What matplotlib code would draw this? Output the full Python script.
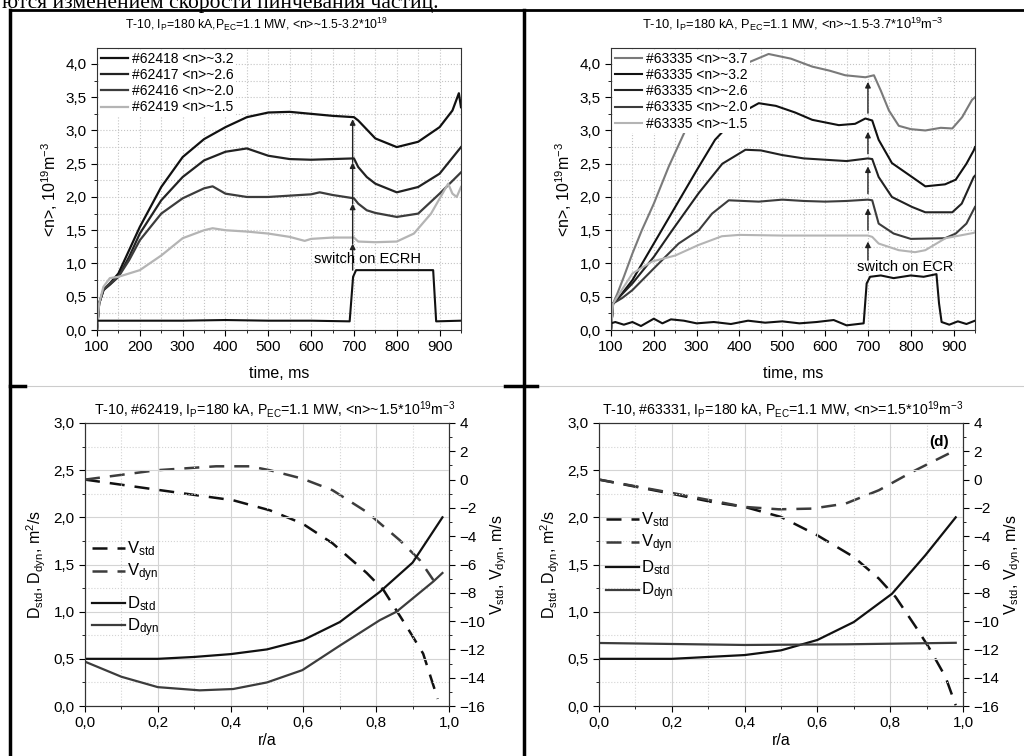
import matplotlib
matplotlib.use('Agg')
import matplotlib.pyplot as plt
from matplotlib.ticker import MultipleLocator, FuncFormatter
from matplotlib.lines import Line2D

plt.rcParams['font.family'] = ['Liberation Sans', 'DejaVu Sans']
plt.rcParams['mathtext.default'] = 'regular'

# --- DATA: panel (a), shots #62416-#62419 ---
a418_t = [100, 105, 115, 130, 150, 175, 200, 250, 300, 350, 400, 450, 500, 550, 600, 650, 700, 710, 750, 800, 850, 900, 930, 945, 950]
a418_n = [0, 0.4, 0.6, 0.7, 0.85, 1.2, 1.55, 2.15, 2.6, 2.87, 3.05, 3.2, 3.27, 3.28, 3.25, 3.22, 3.2, 3.15, 2.88, 2.75, 2.83, 3.05, 3.3, 3.56, 3.35]
a417_t = [100, 105, 115, 130, 150, 175, 200, 250, 300, 350, 400, 450, 500, 550, 600, 650, 700, 710, 730, 750, 800, 850, 900, 950]
a417_n = [0, 0.4, 0.6, 0.68, 0.8, 1.1, 1.45, 1.95, 2.3, 2.55, 2.68, 2.73, 2.62, 2.57, 2.56, 2.57, 2.58, 2.45, 2.3, 2.2, 2.07, 2.15, 2.35, 2.75]
a416_t = [100, 105, 115, 130, 150, 175, 200, 250, 300, 350, 370, 400, 450, 500, 550, 600, 620, 650, 700, 710, 730, 750, 800, 850, 900, 950]
a416_n = [0, 0.4, 0.6, 0.7, 0.8, 1.05, 1.35, 1.75, 1.98, 2.13, 2.16, 2.05, 2.0, 2.0, 2.02, 2.04, 2.07, 2.03, 1.98, 1.9, 1.8, 1.76, 1.7, 1.75, 2.05, 2.37]
a419_t = [100, 105, 115, 130, 150, 175, 200, 250, 300, 350, 370, 400, 450, 500, 550, 585, 600, 650, 700, 710, 750, 800, 840, 880, 920, 930, 940, 950]
a419_n = [0, 0.4, 0.65, 0.78, 0.8, 0.85, 0.9, 1.12, 1.38, 1.5, 1.53, 1.5, 1.48, 1.45, 1.4, 1.34, 1.37, 1.39, 1.39, 1.33, 1.32, 1.33, 1.45, 1.75, 2.2, 2.05, 2.0, 2.15]
ecrh_a_t = [100, 200, 300, 400, 500, 600, 690, 698, 705, 800, 885, 892, 950]
ecrh_a_p = [0.14, 0.14, 0.14, 0.15, 0.14, 0.14, 0.13, 0.8, 0.9, 0.9, 0.9, 0.13, 0.14]
arrows_a = [(0.9, 1.3), (1.3, 1.9), (1.9, 2.52), (2.52, 3.17)]

# --- DATA: panel (b), shot #63335 ---
b37_t = [100, 105, 115, 130, 150, 172, 200, 235, 270, 305, 340, 380, 420, 468, 520, 570, 610, 647, 694, 714, 730, 749, 772, 800, 834, 870, 897, 920, 943, 950]
b37_n = [0, 0.4, 0.55, 0.8, 1.15, 1.5, 1.9, 2.46, 2.95, 3.46, 3.7, 3.88, 4.02, 4.15, 4.08, 3.96, 3.9, 3.83, 3.8, 3.83, 3.6, 3.3, 3.07, 3.02, 3.0, 3.04, 3.03, 3.2, 3.46, 3.5]
b32_t = [100, 105, 120, 150, 200, 250, 300, 343, 400, 445, 485, 530, 570, 632, 670, 694, 710, 725, 756, 803, 834, 880, 905, 930, 947, 950]
b32_n = [0, 0.4, 0.5, 0.75, 1.3, 1.85, 2.4, 2.86, 3.25, 3.41, 3.37, 3.27, 3.16, 3.08, 3.1, 3.18, 3.15, 2.86, 2.51, 2.3, 2.16, 2.19, 2.26, 2.5, 2.7, 2.75]
b26_t = [100, 105, 120, 150, 200, 243, 305, 360, 414, 450, 500, 550, 600, 650, 700, 710, 725, 756, 803, 834, 897, 919, 947, 950]
b26_n = [0, 0.4, 0.5, 0.7, 1.1, 1.5, 2.06, 2.5, 2.71, 2.7, 2.63, 2.58, 2.56, 2.54, 2.58, 2.57, 2.3, 2.0, 1.85, 1.77, 1.77, 1.9, 2.3, 2.32]
b20_t = [100, 105, 126, 150, 196, 258, 305, 336, 375, 445, 500, 550, 600, 650, 700, 710, 725, 760, 800, 880, 905, 930, 950]
b20_n = [0, 0.4, 0.48, 0.6, 0.9, 1.3, 1.5, 1.75, 1.95, 1.93, 1.96, 1.94, 1.93, 1.94, 1.96, 1.95, 1.6, 1.45, 1.37, 1.38, 1.45, 1.6, 1.85]
b15_t = [100, 105, 120, 150, 196, 250, 305, 359, 400, 500, 600, 700, 710, 725, 772, 810, 834, 881, 947, 950]
b15_n = [0, 0.4, 0.55, 0.85, 1.03, 1.12, 1.28, 1.41, 1.43, 1.42, 1.42, 1.42, 1.4, 1.3, 1.2, 1.17, 1.2, 1.38, 1.46, 1.47]
ecr_b_t = [100, 110, 130, 150, 170, 200, 220, 240, 270, 300, 340, 380, 420, 460, 500, 540, 580, 620, 650, 690, 697, 705, 730, 760, 800, 830, 860, 866, 872, 890, 910, 930, 950]
ecr_b_p = [0.1, 0.12, 0.08, 0.12, 0.06, 0.17, 0.1, 0.16, 0.14, 0.1, 0.12, 0.09, 0.14, 0.11, 0.13, 0.1, 0.12, 0.15, 0.07, 0.1, 0.7, 0.8, 0.82, 0.78, 0.82, 0.8, 0.84, 0.4, 0.12, 0.08, 0.13, 0.09, 0.14]
arrows_b = [(1.05, 1.33), (1.5, 1.83), (2.05, 2.46), (2.65, 2.98), (3.26, 3.73)]

# --- DATA: panel (c), #62419 ---
c_dstd_r = [0.0, 0.2, 0.3, 0.4, 0.5, 0.6, 0.7, 0.81, 0.9, 0.982]
c_dstd = [0.5, 0.5, 0.52, 0.55, 0.6, 0.7, 0.89, 1.21, 1.52, 2.0]
c_ddyn_r = [0.0, 0.1, 0.2, 0.315, 0.407, 0.5, 0.597, 0.7, 0.81, 0.856, 0.957, 0.982]
c_ddyn = [0.47, 0.31, 0.2, 0.166, 0.18, 0.25, 0.38, 0.64, 0.91, 1.0, 1.32, 1.41]
c_vstd_r = [0.0, 0.196, 0.407, 0.508, 0.597, 0.68, 0.774, 0.82, 0.884, 0.929, 0.969]
c_vstd = [0.0, -0.71, -1.46, -2.17, -3.1, -4.5, -6.6, -7.8, -10.4, -12.3, -15.5]
c_vdyn_r = [0.0, 0.196, 0.36, 0.453, 0.508, 0.597, 0.68, 0.774, 0.865, 0.92, 0.957]
c_vdyn = [0.0, 0.66, 0.94, 0.94, 0.66, 0.07, -0.75, -2.29, -4.29, -5.7, -7.1]

# --- DATA: panel (d), #63331 ---
d_dstd_r = [0.0, 0.2, 0.4, 0.5, 0.6, 0.7, 0.805, 0.897, 0.98]
d_dstd = [0.5, 0.5, 0.54, 0.59, 0.7, 0.89, 1.19, 1.6, 2.0]
d_ddyn_r = [0.0, 0.4, 0.68, 0.98]
d_ddyn = [0.668, 0.647, 0.654, 0.67]
d_vstd_r = [0.0, 0.2, 0.31, 0.4, 0.5, 0.6, 0.7, 0.769, 0.815, 0.87, 0.906, 0.952, 0.98]
d_vstd = [0.0, -1.0, -1.58, -1.93, -2.64, -3.94, -5.47, -7.0, -8.3, -10.4, -11.85, -13.95, -15.95]
d_vdyn_r = [0.0, 0.2, 0.4, 0.494, 0.585, 0.677, 0.769, 0.86, 0.961]
d_vdyn = [0.0, -0.94, -1.93, -2.1, -2.05, -1.7, -0.75, 0.54, 1.84]

BLACK = '#111111'
DARK = '#3c3c3c'
MID = '#7a7a7a'
LIGHT = '#b4b4b4'
comma1 = FuncFormatter(lambda v, p: f"{v:.1f}".replace('.', ','))

fig = plt.figure(figsize=(10.24, 7.56), dpi=100)

# --- table borders of the scanned page ---
def hline(y, x0, x1, **kw):
    fig.add_artist(Line2D([x0 / 1024, x1 / 1024], [1 - y / 756, 1 - y / 756], **kw))

def vline(x, y0, y1, **kw):
    fig.add_artist(Line2D([x / 1024, x / 1024], [1 - y0 / 756, 1 - y1 / 756], **kw))

hline(10, 10, 1024, color='black', lw=2)
vline(10, 10, 756, color='black', lw=2.5)
vline(524, 10, 756, color='black', lw=2.5)
hline(386, 10, 1024, color='#cccccc', lw=0.8)
hline(386, 10, 25, color='black', lw=2.5)
hline(386, 505, 537, color='black', lw=2.5)
# the line of page text above the table is cut by the scan edge
fig.text(2 / 1024, 1 - 8 / 756, 'ются изменением скорости пинчевания частиц.',
         family='Liberation Serif', fontsize=15.5, va='baseline', ha='left')


def style_time(ax, title, tsize, tx):
    ax.set_xlim(100, 950)
    ax.set_ylim(0, 4.24)
    ax.xaxis.set_major_locator(MultipleLocator(100))
    ax.xaxis.set_minor_locator(MultipleLocator(50))
    ax.yaxis.set_major_locator(MultipleLocator(0.5))
    ax.yaxis.set_minor_locator(MultipleLocator(0.25))
    ax.yaxis.set_major_formatter(comma1)
    ax.grid(which='both', ls=':', color='#c4c4c4', lw=0.8)
    ax.set_axisbelow(True)
    ax.tick_params(labelsize=11, direction='out', length=4)
    ax.tick_params(which='minor', length=2)
    ax.set_xlabel('time, ms', fontsize=11.5, labelpad=8)
    ax.set_ylabel('<n>, 10$^{19}$m$^{-3}$', fontsize=11.5)
    ax.set_title(title, fontsize=tsize, pad=14, x=tx)
    for s in ax.spines.values():
        s.set_color('#333333')
    ax.legend(loc='upper left', fontsize=10, frameon=True, framealpha=1, edgecolor='none',
              handlelength=1.95, labelspacing=0.15, borderpad=0.15, borderaxespad=0.15,
              handletextpad=0.3)


# --- panel (a) ---
axA = fig.add_axes([97 / 1024, 1 - 330 / 756, 364 / 1024, 282 / 756])
axA.plot(a418_t, a418_n, color=BLACK, lw=1.6, label='#62418 <n>~3.2')
axA.plot(a417_t, a417_n, color='#222222', lw=1.6, label='#62417 <n>~2.6')
axA.plot(a416_t, a416_n, color=DARK, lw=1.6, label='#62416 <n>~2.0')
axA.plot(a419_t, a419_n, color=LIGHT, lw=1.6, label='#62419 <n>~1.5')
axA.plot(ecrh_a_t, ecrh_a_p, color=BLACK, lw=1.5)
for y0, y1 in arrows_a:
    axA.annotate('', xy=(697, y1), xytext=(697, y0),
                 arrowprops=dict(arrowstyle='-|>', color='#222222', lw=1.0, mutation_scale=8, shrinkA=0, shrinkB=0))
axA.text(731, 1.07, 'switch on ECRH', ha='center', va='center', fontsize=10.5)
style_time(axA, 'T-10, I$_P$=180 kA,P$_{EC}$=1.1 MW, <n>~1.5-3.2*10$^{19}$', 8.8, 0.437)

# --- panel (b) ---
axB = fig.add_axes([611 / 1024, 1 - 330 / 756, 364 / 1024, 282 / 756])
axB.plot(b37_t, b37_n, color=MID, lw=1.5, label='#63335 <n>~3.7')
axB.plot(b32_t, b32_n, color=BLACK, lw=1.5, label='#63335 <n>~3.2')
axB.plot(b26_t, b26_n, color='#222222', lw=1.5, label='#63335 <n>~2.6')
axB.plot(b20_t, b20_n, color=DARK, lw=1.5, label='#63335 <n>~2.0')
axB.plot(b15_t, b15_n, color=LIGHT, lw=1.5, label='#63335 <n>~1.5')
axB.plot(ecr_b_t, ecr_b_p, color=BLACK, lw=1.5)
for y0, y1 in arrows_b:
    axB.annotate('', xy=(700, y1), xytext=(700, y0),
                 arrowprops=dict(arrowstyle='-|>', color='#222222', lw=1.0, mutation_scale=8, shrinkA=0, shrinkB=0))
axB.text(788, 0.95, 'switch on ECR', ha='center', va='center', fontsize=10.5)
style_time(axB, 'T-10, I$_P$=180 kA, P$_{EC}$=1.1 MW, <n>~1.5-3.7*10$^{19}$m$^{-3}$', 9.3, 0.5)


def style_prof(ax, ax2, title, tx):
    ax.set_xlim(0, 1)
    ax.set_ylim(0, 3)
    ax2.set_ylim(-16, 4)
    ax.xaxis.set_major_locator(MultipleLocator(0.2))
    ax.xaxis.set_minor_locator(MultipleLocator(0.1))
    ax.yaxis.set_major_locator(MultipleLocator(0.5))
    ax.yaxis.set_minor_locator(MultipleLocator(0.25))
    ax2.yaxis.set_major_locator(MultipleLocator(2))
    ax2.yaxis.set_minor_locator(MultipleLocator(1))
    ax.xaxis.set_major_formatter(comma1)
    ax.yaxis.set_major_formatter(comma1)
    ax.grid(which='major', ls='-', color='#d4d4d4', lw=0.8)
    ax.grid(which='minor', ls=':', color='#d4d4d4', lw=0.8)
    ax.set_axisbelow(True)
    for a in (ax, ax2):
        a.tick_params(labelsize=11, direction='out', length=4)
        a.tick_params(which='minor', length=2)
        for s in a.spines.values():
            s.set_color('#333333')
    ax.set_xlabel('r/a', fontsize=11.5, labelpad=2)
    ax.set_ylabel('D$_{std}$, D$_{dyn}$, m$^2$/s', fontsize=11.5)
    ax2.set_ylabel('V$_{std}$, V$_{dyn}$, m/s', fontsize=11.5, labelpad=2)
    ax.set_title(title, fontsize=10.2, pad=6, x=tx)


def prof_panel(rect, title, tx, dstd, ddyn, vstd, vdyn, legend_y):
    ax = fig.add_axes(rect)
    ax2 = ax.twinx()
    ax.set_zorder(ax2.get_zorder() + 1)
    ax.patch.set_visible(False)
    h1, = ax2.plot(vstd[0], vstd[1], color=BLACK, lw=1.8, ls=(0, (6, 4)), label='V$_{std}$')
    h2, = ax2.plot(vdyn[0], vdyn[1], color=DARK, lw=1.8, ls=(0, (6, 4)), label='V$_{dyn}$')
    h3, = ax.plot(dstd[0], dstd[1], color=BLACK, lw=1.6, label='D$_{std}$')
    h4, = ax.plot(ddyn[0], ddyn[1], color=DARK, lw=1.6, label='D$_{dyn}$')
    style_prof(ax, ax2, title, tx)
    kw = dict(fontsize=12, frameon=False, handlelength=2.0, handletextpad=0.15,
              labelspacing=0.2, borderpad=0)
    leg1 = ax.legend(handles=[h1, h2], loc='upper left', bbox_to_anchor=(-0.005, legend_y[0]), **kw)
    ax.add_artist(leg1)
    ax.legend(handles=[h3, h4], loc='upper left', bbox_to_anchor=(-0.005, legend_y[1]), **kw)
    return ax


prof_panel([85 / 1024, 50 / 756, 364 / 1024, 283 / 756],
           'T-10, #62419, I$_P$=180 kA, P$_{EC}$=1.1 MW, <n>~1.5*10$^{19}$m$^{-3}$', 0.52,
           (c_dstd_r, c_dstd), (c_ddyn_r, c_ddyn), (c_vstd_r, c_vstd), (c_vdyn_r, c_vdyn),
           (0.618, 0.424))
axD = prof_panel([599 / 1024, 50 / 756, 364 / 1024, 283 / 756],
                 'T-10, #63331, I$_P$=180 kA, P$_{EC}$=1.1 MW, <n>=1.5*10$^{19}$m$^{-3}$', 0.505,
                 (d_dstd_r, d_dstd), (d_ddyn_r, d_ddyn), (d_vstd_r, d_vstd), (d_vdyn_r, d_vdyn),
                 (0.72, 0.55))
axD.text(0.933, 2.80, '(d)', fontsize=11, fontweight='bold', ha='center', va='center')

fig.savefig('out.png', dpi=100)
